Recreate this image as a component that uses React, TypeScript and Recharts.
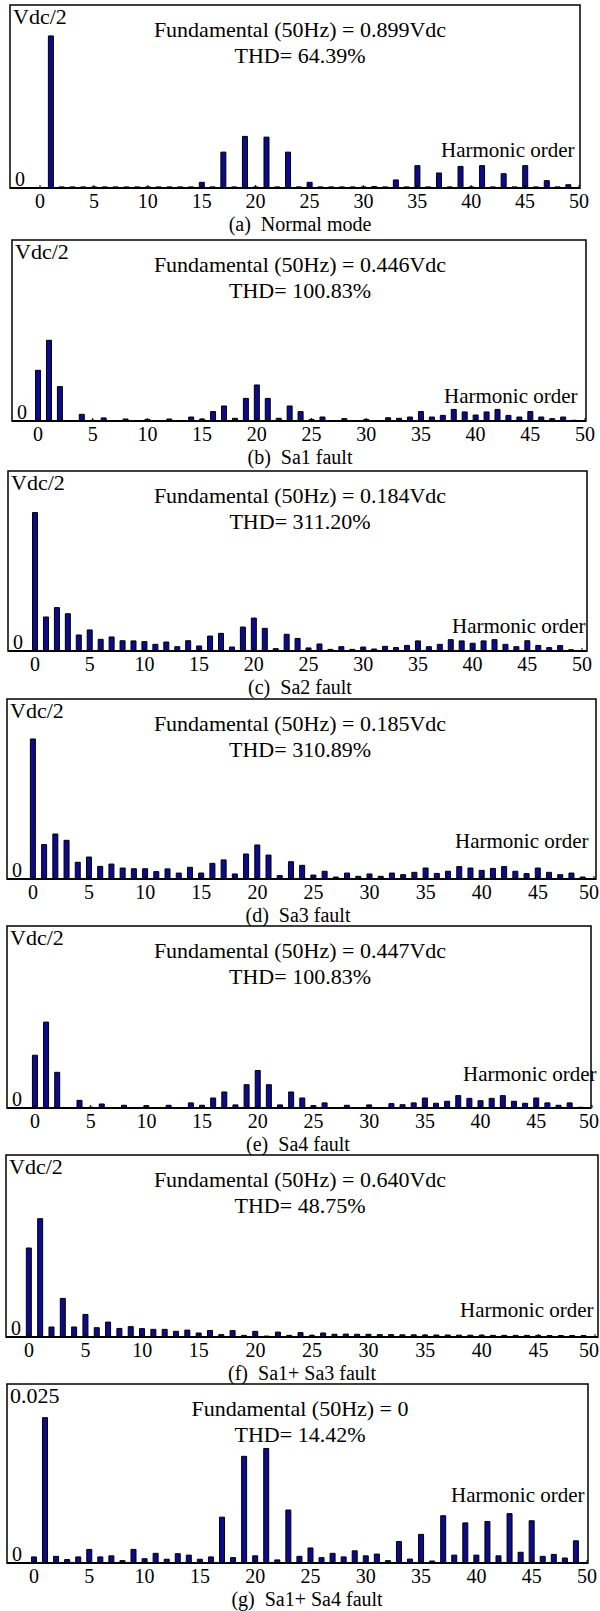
import React from 'react';
import { BarChart, Bar, XAxis, YAxis, ReferenceArea } from 'recharts';

// harmonic orders shown in every spectrum
const orders = [
  0, 1, 2, 3, 4, 5, 6, 7, 8, 9,
  10, 11, 12, 13, 14, 15, 16, 17, 18, 19,
  20, 21, 22, 23, 24, 25, 26, 27, 28, 29,
  30, 31, 32, 33, 34, 35, 36, 37, 38, 39,
  40, 41, 42, 43, 44, 45, 46, 47, 48, 49,
];
const xTicks = [0, 5, 10, 15, 20, 25, 30, 35, 40, 45, 50];

// amplitudes, in units of the panel's top label (Vdc/2)
const normalMode = [
  0, 0.831, 0.006, 0.006, 0.006, 0.006, 0.006, 0.006, 0.006, 0.006,
  0.006, 0.006, 0.006, 0.006, 0.006, 0.031, 0.006, 0.196, 0.006, 0.282,
  0.006, 0.278, 0.006, 0.196, 0.006, 0.031, 0.006, 0.006, 0.006, 0.006,
  0.006, 0.008, 0.006, 0.044, 0.006, 0.122, 0.006, 0.082, 0.006, 0.118,
  0.006, 0.122, 0.006, 0.078, 0.006, 0.122, 0.006, 0.04, 0.006, 0.018,
];
const sa1Fault = [
  0.28, 0.446, 0.19, 0, 0.037, 0.004, 0.017, 0, 0.011, 0,
  0.009, 0, 0.011, 0, 0.022, 0.011, 0.052, 0.083, 0.015, 0.125,
  0.199, 0.125, 0.015, 0.083, 0.052, 0.009, 0.022, 0, 0.013, 0,
  0.009, 0, 0.018, 0.015, 0.022, 0.052, 0.022, 0.031, 0.064, 0.05,
  0.033, 0.05, 0.064, 0.031, 0.022, 0.052, 0.022, 0.013, 0.022, 0.004,
];
const sa2Fault = [
  0.769, 0.189, 0.241, 0.207, 0.089, 0.117, 0.065, 0.078, 0.057, 0.056,
  0.052, 0.037, 0.05, 0.024, 0.057, 0.028, 0.083, 0.098, 0.022, 0.133,
  0.183, 0.126, 0.013, 0.093, 0.07, 0.017, 0.039, 0.009, 0.024, 0.009,
  0.022, 0.011, 0.026, 0.019, 0.031, 0.056, 0.024, 0.037, 0.063, 0.056,
  0.043, 0.056, 0.063, 0.037, 0.024, 0.057, 0.031, 0.019, 0.03, 0.007,
];
const sa3Fault = [
  0.778, 0.191, 0.25, 0.215, 0.093, 0.122, 0.07, 0.083, 0.061, 0.057,
  0.057, 0.041, 0.056, 0.033, 0.065, 0.033, 0.087, 0.106, 0.028, 0.139,
  0.189, 0.133, 0.019, 0.096, 0.076, 0.022, 0.043, 0.011, 0.033, 0.015,
  0.028, 0.015, 0.033, 0.024, 0.037, 0.061, 0.031, 0.043, 0.069, 0.061,
  0.048, 0.059, 0.069, 0.043, 0.03, 0.061, 0.037, 0.024, 0.033, 0.011,
];
const sa4Fault = [
  0.29, 0.472, 0.196, 0, 0.042, 0.004, 0.022, 0, 0.015, 0,
  0.013, 0, 0.015, 0, 0.028, 0.015, 0.055, 0.088, 0.017, 0.128,
  0.206, 0.128, 0.017, 0.088, 0.055, 0.013, 0.028, 0, 0.015, 0,
  0.017, 0, 0.024, 0.018, 0.028, 0.055, 0.026, 0.037, 0.068, 0.053,
  0.04, 0.053, 0.068, 0.037, 0.026, 0.055, 0.028, 0.015, 0.028, 0.004,
];
const sa1Sa3Fault = [
  0.489, 0.65, 0.055, 0.212, 0.055, 0.124, 0.051, 0.082, 0.047, 0.057,
  0.046, 0.042, 0.042, 0.031, 0.038, 0.022, 0.036, 0.013, 0.035, 0.009,
  0.031, 0.005, 0.027, 0.009, 0.024, 0.009, 0.022, 0.015, 0.016, 0.015,
  0.015, 0.013, 0.013, 0.012, 0.012, 0.011, 0.011, 0.011, 0.01, 0.01,
  0.01, 0.009, 0.009, 0.009, 0.009, 0.009, 0.008, 0.008, 0.008, 0.008,
];
// this one is in absolute units (top of panel = 0.025)
const sa1Sa4Fault = [
  0.00085, 0.0203, 0.00093, 0.00048, 0.00085, 0.0019, 0.00085, 0.001, 0.00033, 0.0019,
  0.0006, 0.00135, 0.00053, 0.0013, 0.0011, 0.00053, 0.00085, 0.0064, 0.00075, 0.0149,
  0.001, 0.016, 0.00043, 0.0074, 0.00093, 0.0021, 0.00075, 0.00135, 0.00085, 0.0017,
  0.001, 0.00125, 0.00033, 0.003, 0.00055, 0.004, 0.00028, 0.0066, 0.0011, 0.0056,
  0.0011, 0.0058, 0.001, 0.0069, 0.0015, 0.0059, 0.00093, 0.0012, 0.0007, 0.0031,
];

const series = [normalMode, sa1Fault, sa2Fault, sa3Fault, sa4Fault, sa1Sa3Fault, sa1Sa4Fault];
const yMaxes = [1, 1, 1, 1, 1, 1, 0.025];
const topLabels = ['Vdc/2', 'Vdc/2', 'Vdc/2', 'Vdc/2', 'Vdc/2', 'Vdc/2', '0.025'];
const fundamentals = ['0.899Vdc', '0.446Vdc', '0.184Vdc', '0.185Vdc', '0.447Vdc', '0.640Vdc', '0'];
const thds = ['64.39%', '100.83%', '311.20%', '310.89%', '100.83%', '48.75%', '14.42%'];
const captions = [
  '(a)  Normal mode',
  '(b)  Sa1 fault',
  '(c)  Sa2 fault',
  '(d)  Sa3 fault',
  '(e)  Sa4 fault',
  '(f)  Sa1+ Sa3 fault',
  '(g)  Sa1+ Sa4 fault',
];

// frame placement on the page (px): box edges, where order 0 / 50 sit, label spots
const frames = [
  { top: 5, axis: 188, left: 10, right: 580, x0: 40, x50: 579, harmX: 441, harmDy: 31, capX: 300 },
  { top: 240, axis: 421, left: 12, right: 586, x0: 38, x50: 585, harmX: 444, harmDy: 18, capX: 300 },
  { top: 471, axis: 651, left: 8, right: 587, x0: 35, x50: 582, harmX: 452, harmDy: 18, capX: 300 },
  { top: 699, axis: 879, left: 7, right: 596, x0: 33, x50: 594, harmX: 455, harmDy: 31, capX: 298 },
  { top: 926, axis: 1108, left: 7, right: 591, x0: 35, x50: 592, harmX: 463, harmDy: 27, capX: 298 },
  { top: 1155, axis: 1337, left: 6, right: 598, x0: 29, x50: 595, harmX: 460, harmDy: 20, capX: 302 },
  { top: 1384, axis: 1563, left: 7, right: 588, x0: 34, x50: 587, harmX: 451, harmDy: 61, capX: 307 },
];

const serif = '"Liberation Serif", "Times New Roman", serif';
const PAD = 10;

// x tick label; the last one is pulled in so it stays on the page
const xTick = (p: any) => {
  const label = String(p.payload.value);
  const half = label.length * 5;
  const clamp = p.x + half > 599;
  return (
    <text
      x={clamp ? 599 : p.x}
      y={p.y}
      dy={12}
      textAnchor={clamp ? 'end' : 'middle'}
      fontSize={20}
      fontFamily={serif}
      fill="#000"
    >
      {label}
    </text>
  );
};

function Panel({ idx }: { idx: number }) {
  const f = frames[idx];
  const yMax = yMaxes[idx];
  const step = (f.x50 - f.x0) / 50;
  const domain = [-(f.x0 - f.left) / step, 50 + (f.right - f.x50) / step];
  const data = orders.map((h, i) => ({ h, v: series[idx][i] }));
  const plotH = f.axis - f.top;

  return (
    <div style={{ position: 'absolute', left: 0, top: f.top - PAD }}>
      <BarChart
        width={600}
        height={PAD + plotH + 40}
        data={data}
        margin={{ top: PAD, right: 600 - f.right, bottom: 0, left: f.left }}
      >
        <ReferenceArea
          x1={domain[0]}
          x2={domain[1]}
          y1={0}
          y2={yMax}
          fill="none"
          stroke="#000"
          strokeWidth={1.5}
          ifOverflow="visible"
        />
        <XAxis
          type="number"
          dataKey="h"
          domain={domain}
          allowDataOverflow
          ticks={xTicks}
          interval={0}
          height={40}
          tickLine={{ stroke: '#000', strokeWidth: 1 }}
          tickSize={-3}
          tickMargin={11}
          axisLine={{ stroke: '#000', strokeWidth: 2 }}
          tick={xTick}
        />
        <YAxis hide type="number" domain={[0, yMax]} allowDataOverflow />
        <Bar dataKey="v" fill="#0b0b8c" stroke="#000" strokeWidth={1} barSize={5} isAnimationActive={false} />
      </BarChart>
    </div>
  );
}

export default function App() {
  return (
    <div style={{ position: 'absolute', left: 0, top: 0, width: 600, height: 1611, background: '#fff', overflow: 'hidden' }}>
      {frames.map((_, i) => (
        <Panel key={i} idx={i} />
      ))}
      <svg width={600} height={1611} style={{ position: 'absolute', left: 0, top: 0, pointerEvents: 'none' }}>
        {frames.map((f, i) => (
          <g key={i} fontFamily={serif} fill="#000">
            <text x={f.left + 3} y={f.top + 19} fontSize={22}>
              {topLabels[i]}
            </text>
            <text x={f.left + 5} y={f.axis - 2} fontSize={20}>
              0
            </text>
            <text x={300} y={f.top + 32} fontSize={22} textAnchor="middle">
              {'Fundamental (50Hz) = ' + fundamentals[i]}
            </text>
            <text x={300} y={f.top + 58} fontSize={22} textAnchor="middle">
              {'THD= ' + thds[i]}
            </text>
            <text x={f.harmX} y={f.axis - f.harmDy} fontSize={21} textAnchor="start">
              Harmonic order
            </text>
            <text x={f.capX} y={f.axis + 43} fontSize={20} textAnchor="middle" style={{ whiteSpace: 'pre' }}>
              {captions[i]}
            </text>
          </g>
        ))}
      </svg>
    </div>
  );
}
